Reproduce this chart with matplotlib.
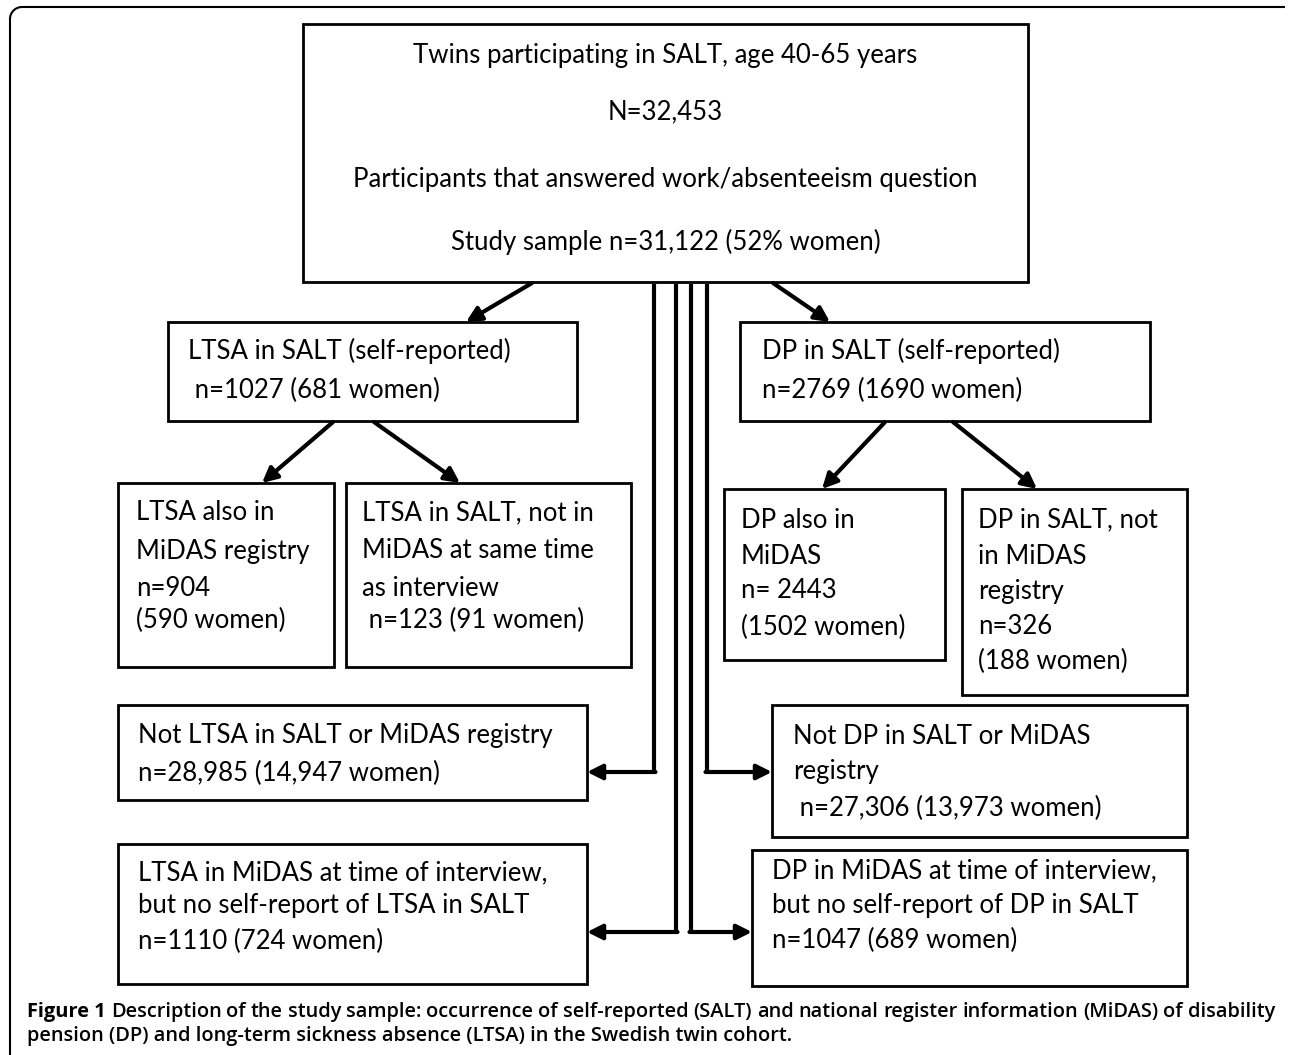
import matplotlib
matplotlib.use("Agg")
import matplotlib.pyplot as plt
from matplotlib.patches import Arc

plt.rcParams['font.family'] = ['Lato', 'DejaVu Sans']

# ---- content ----
top_lines = ["Twins participating in SALT, age 40-65 years",
             "N=32,453",
             "Participants that answered work/absenteeism question",
             "Study sample n=31,122 (52% women)"]
ltsa_salt = ["LTSA in SALT (self-reported)", " n=1027 (681 women)"]
dp_salt = ["DP in SALT (self-reported)", "n=2769 (1690 women)"]
ltsa_midas_also = ["LTSA also in", "MiDAS registry", "n=904", "(590 women)"]
ltsa_not_midas = ["LTSA in SALT, not in", "MiDAS at same time", "as interview", " n=123 (91 women)"]
dp_midas_also = ["DP also in", "MiDAS", "n= 2443", "(1502 women)"]
dp_not_midas = ["DP in SALT, not", "in MiDAS", "registry", "n=326", "(188 women)"]
not_ltsa = ["Not LTSA in SALT or MiDAS registry", "n=28,985 (14,947 women)"]
not_dp = ["Not DP in SALT or MiDAS", "registry", " n=27,306 (13,973 women)"]
ltsa_midas_only = ["LTSA in MiDAS at time of interview,", "but no self-report of LTSA in SALT", "n=1110 (724 women)"]
dp_midas_only = ["DP in MiDAS at time of interview,", "but no self-report of DP in SALT", "n=1047 (689 women)"]
caption_bold = "Figure 1"
caption_line1 = "Description of the study sample: occurrence of self-reported (SALT) and national register information (MiDAS) of disability"
caption_line2 = "pension (DP) and long-term sickness absence (LTSA) in the Swedish twin cohort."

W, H = 1290, 1055
fig = plt.figure(figsize=(W / 100, H / 100), dpi=100)
ax = fig.add_axes([0, 0, 1, 1])
ax.set_xlim(0, W)
ax.set_ylim(H, 0)
ax.axis('off')

FS = 18.5
LW = 2.0


def box(x0, y0, x1, y1, lines, ys, x=None, center=False):
    ax.add_patch(plt.Rectangle((x0, y0), x1 - x0, y1 - y0, fill=False,
                               lw=LW, ec='black'))
    for t, y in zip(lines, ys):
        if center:
            ax.text((x0 + x1) / 2, y, t, ha='center', va='center', fontsize=FS)
        else:
            ax.text(x, y, t, ha='left', va='center', fontsize=FS)


# outer frame (top + left with rounded corner)
r = 12
ax.plot([10 + r, 1284], [7, 7], color='black', lw=1.5)
ax.plot([10, 10], [7 + r, 1055], color='black', lw=1.5)
ax.add_patch(Arc((10 + r, 7 + r), 2 * r, 2 * r, theta1=180, theta2=270,
                 color='black', lw=1.5))

box(303, 24, 1028, 282, top_lines, [55, 112, 180, 242], center=True)
box(168, 322, 577, 421, ltsa_salt, [351, 390], x=188)
box(740, 322, 1150, 421, dp_salt, [351, 390], x=762)
box(118, 483, 334, 667, ltsa_midas_also, [513, 551, 589, 620], x=136)
box(346, 483, 631, 667, ltsa_not_midas, [513, 551, 589, 620], x=362)
box(724, 489, 945, 660, dp_midas_also, [520, 556, 591, 627], x=741)
box(962, 489, 1187, 695, dp_not_midas, [520, 556, 591, 626, 661], x=978)
box(118, 705, 587, 800, not_ltsa, [736, 773], x=138)
box(772, 705, 1187, 837, not_dp, [736, 772, 808], x=793)
box(118, 844, 587, 984, ltsa_midas_only, [873, 906, 941], x=138)
box(752, 850, 1187, 986, dp_midas_only, [871, 905, 940], x=772)

AP = dict(arrowstyle='-|>,head_length=0.9,head_width=0.45', color='black',
          lw=3, shrinkA=0, shrinkB=0)


def arrow(x0, y0, x1, y1):
    ax.annotate('', xy=(x1, y1), xytext=(x0, y0), arrowprops=AP)


arrow(532, 283, 466, 322)
arrow(773, 283, 830, 322)
arrow(333, 422, 262, 483)
arrow(374, 422, 460, 483)
arrow(885, 422, 822, 489)
arrow(953, 422, 1037, 489)

# elbow connectors
for xv, yh, xt in [(654, 772, 587), (676, 932, 587)]:
    ax.plot([xv, xv], [284, yh], color='black', lw=3, solid_capstyle='butt')
    arrow(xv + 1.5, yh, xt, yh)
for xv, yh, xt in [(691, 932, 752), (707, 772, 772)]:
    ax.plot([xv, xv], [284, yh], color='black', lw=3, solid_capstyle='butt')
    arrow(xv - 1.5, yh, xt, yh)

# caption (first line justified between x=27 and x=1275)
CFS = 14.4
CFONT = ['Open Sans', 'DejaVu Sans']
fig.canvas.draw()
renderer = fig.canvas.get_renderer()
words = [(caption_bold, 'bold')] + [(w, 'semibold') for w in caption_line1.split()]
arts = []
for w, wt in words:
    a = ax.text(0, 1012, w, fontsize=CFS, fontweight=wt, family=CFONT,
                ha='left', va='center')
    arts.append(a)
widths = [a.get_window_extent(renderer).width for a in arts]
x_start, x_end = 27, 1275
gap = (x_end - x_start - sum(widths)) / (len(arts) - 1)
x = x_start
for a, wd in zip(arts, widths):
    a.set_x(x)
    x += wd + gap
ax.text(27, 1036, caption_line2, fontsize=CFS, fontweight='semibold',
        family=CFONT, ha='left', va='center')

fig.savefig('out.png', dpi=100)
